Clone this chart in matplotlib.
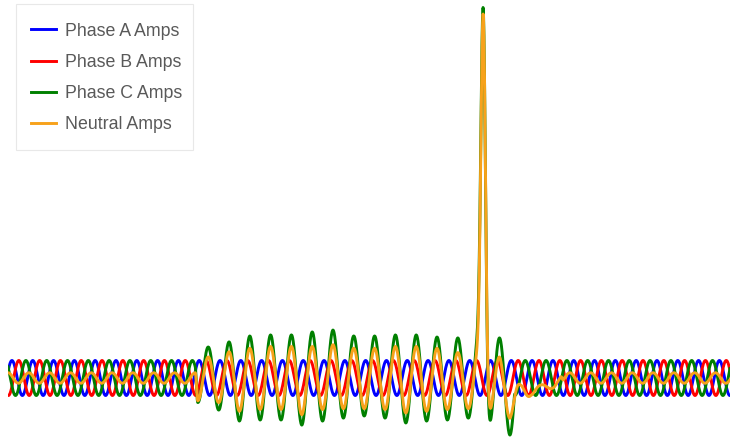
import matplotlib
matplotlib.use("Agg")
import matplotlib.pyplot as plt
from matplotlib.patches import Rectangle
import numpy as np

# time base in cycles of the fundamental
N_CYCLES = 34.7
SERIES = ["Phase A Amps", "Phase B Amps", "Phase C Amps", "Neutral Amps"]
COLORS = ["#0000ff", "#ff0000", "#008000", "#f7a21b"]

# steady state: peak amplitude and phase of the peak (fraction of a cycle)
STEADY_AMP = [1.0, 1.0, 1.0, 0.3]
STEADY_PEAK = [0.19, 0.52, 0.86, 0.0]

# fault window (cycles) and the peak phase of the fault current
FAULT_PEAK_PHASE = 0.62
C_WINDOW = (9.0, 24.4)
N_WINDOW = (9.0, 26.7)

# phase C during the fault: peaks at cycle k + 0.62, troughs at k + 0.12
C_PEAK_CYCLE = [9, 10, 11, 12, 13, 14, 15, 16, 17, 18, 19, 20, 21, 22, 23]
C_PEAKS = [1.77, 2.06, 2.4, 2.46, 2.46, 2.63, 2.74, 2.4, 2.4, 2.46, 2.46,
           2.34, 2.29, 2.2, 2.29]
C_TROUGH_CYCLE = [9, 10, 11, 12, 13, 14, 15, 16, 17, 18, 19, 20, 21, 22, 23, 24]
C_TROUGHS = [-1.4, -1.83, -2.46, -2.4, -2.4, -2.69, -2.46, -2.29, -2.17,
             -2.29, -2.57, -2.46, -2.4, -2.29, -2.74, -3.26]

# neutral during the fault and its decay afterwards
N_PEAK_CYCLE = [9, 10, 11, 12, 13, 14, 15, 16, 17, 18, 19, 20, 21, 22, 23,
                24, 25, 26]
N_PEAKS = [1.2, 1.5, 1.7, 1.8, 1.8, 1.8, 1.9, 1.7, 1.7, 1.8, 1.8, 1.7, 1.45,
           1.5, 1.2, -0.4, -0.4, 0.1]
N_TROUGH_CYCLE = [9, 10, 11, 12, 13, 14, 15, 16, 17, 18, 19, 20, 21, 22, 23,
                  24, 25, 26]
N_TROUGHS = [-1.3, -1.4, -1.9, -1.8, -1.8, -2.1, -1.8, -1.75, -1.75, -1.8,
             -2.0, -1.9, -1.8, -1.75, -2.0, -2.3, -1.0, -0.6]

# transient spike on phase C and neutral
SPIKE_AT = 22.84
SPIKE_HEIGHT = [20.85, 20.7]  # C, N
SPIKE_WIDTH = 0.11


def steady(t, amp, peak):
    return amp * np.cos(2 * np.pi * (t - peak))


def fault_wave(t, peak_k, peaks, trough_k, troughs):
    up = np.interp(t, np.array(peak_k) + FAULT_PEAK_PHASE, peaks)
    lo = np.interp(t, np.array(trough_k) + FAULT_PEAK_PHASE - 0.5, troughs)
    carrier = np.cos(2 * np.pi * (t - FAULT_PEAK_PHASE))
    return (up + lo) / 2 + (up - lo) / 2 * carrier


def window(t, start, end, ramp=0.12):
    a = np.clip((t - start) / ramp, 0, 1)
    b = np.clip((end - t) / ramp, 0, 1)
    s = lambda x: x * x * (3 - 2 * x)
    return s(a) * s(b)


t = np.linspace(0, N_CYCLES, 8000)
pulse = np.exp(-0.5 * ((t - SPIKE_AT) / SPIKE_WIDTH) ** 2)

waves = [steady(t, a, p) for a, p in zip(STEADY_AMP, STEADY_PEAK)]

mc = window(t, *C_WINDOW)
fc = fault_wave(t, C_PEAK_CYCLE, C_PEAKS, C_TROUGH_CYCLE, C_TROUGHS)
waves[2] = waves[2] * (1 - mc) + fc * mc + SPIKE_HEIGHT[0] * pulse

mn = window(t, *N_WINDOW)
fn = fault_wave(t, N_PEAK_CYCLE, N_PEAKS, N_TROUGH_CYCLE, N_TROUGHS)
waves[3] = waves[3] * (1 - mn) + fn * mn + SPIKE_HEIGHT[1] * pulse

fig = plt.figure(figsize=(7.44, 4.41), dpi=100)
ax = fig.add_axes([8 / 744, 0, 722 / 744, 1])
for y, name, col in zip(waves, SERIES, COLORS):
    ax.plot(t, y, color=col, linewidth=2.1, label=name)

ax.set_xlim(0, N_CYCLES)
ax.set_ylim(-3.6, 21.6)
ax.axis("off")

# legend box: frame drawn separately, it is taller than the text padding
fig.patches.append(Rectangle((16 / 744, 1 - 150 / 441), 177 / 744, 146 / 441,
                             transform=fig.transFigure, facecolor="white",
                             edgecolor="#e8e8e8", linewidth=0.8, zorder=3))
leg = fig.legend(loc="upper left", bbox_to_anchor=(16 / 744, 1 - 7.5 / 441),
                 bbox_transform=fig.transFigure, borderaxespad=0,
                 frameon=False,
                 prop={"family": ["Liberation Sans", "DejaVu Sans"], "size": 12.8},
                 labelspacing=0.8, handlelength=1.4, handletextpad=0.5,
                 borderpad=0.85, labelcolor="#595959")
leg.set_zorder(4)

fig.savefig("out.png", dpi=100)
